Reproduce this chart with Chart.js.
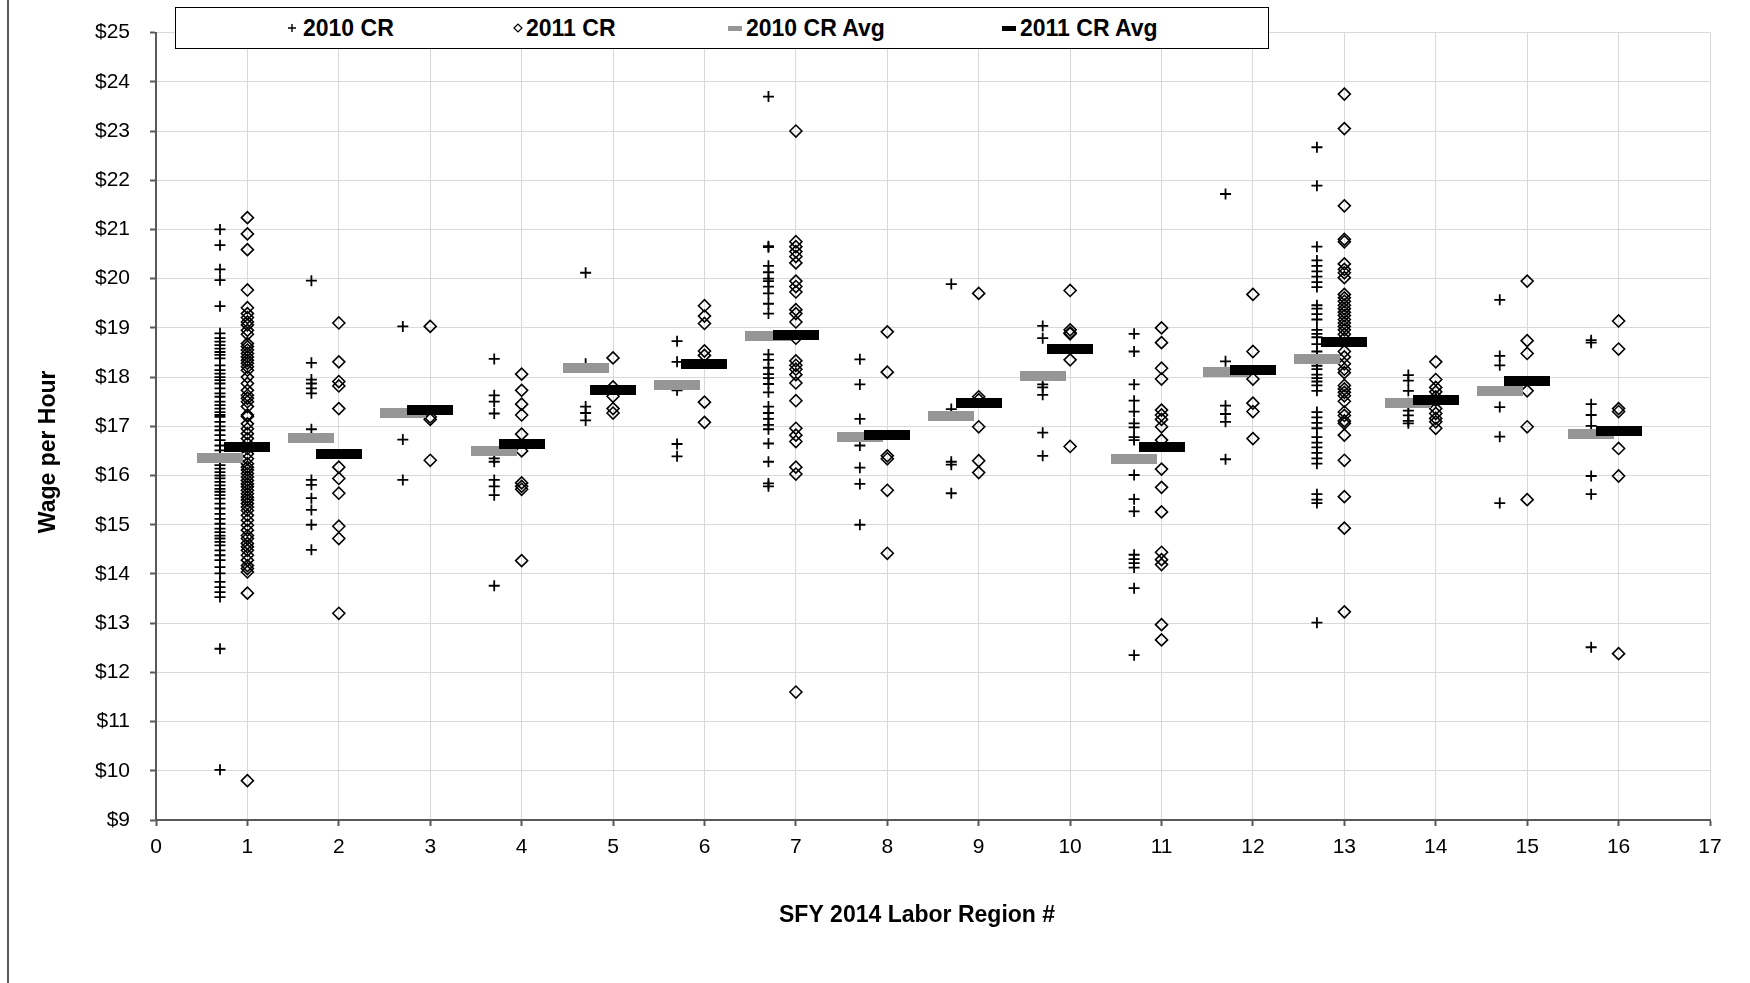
<!DOCTYPE html>
<html>
<head>
<meta charset="utf-8">
<script src="https://cdn.jsdelivr.net/npm/chart.js@4.4.1/dist/chart.umd.min.js"></script>
<style>
  body { margin: 0; background: #fff; }
  #wrap { position: relative; width: 1750px; height: 983px; font-family: "Liberation Sans", Arial, sans-serif; }
  #frame { position: absolute; left: 7px; top: 0; width: 2px; height: 983px; background: #595959; }
  #legend { position: absolute; left: 175px; top: 7px; width: 1092px; height: 40px; border: 1px solid #000; background: #fff; }
  .item { position: absolute; top: 0; height: 40px; display: flex; align-items: center; font-weight: bold; font-size: 23px; color: #000; white-space: nowrap; }
</style>
</head>
<body>
<div id="wrap">
  <canvas id="chart" width="1750" height="983"></canvas>
  <div id="frame"></div>
  <div id="legend">
    <div class="item" style="left:111px"><canvas id="lg0" width="10" height="10" style="margin-right:6px"></canvas>2010 CR</div>
    <div class="item" style="left:337px"><canvas id="lg1" width="10" height="10" style="margin-right:3px"></canvas>2011 CR</div>
    <div class="item" style="left:552px"><canvas id="lg2" width="14" height="5" style="margin-right:4px"></canvas>2010 CR Avg</div>
    <div class="item" style="left:826px"><canvas id="lg3" width="14" height="5" style="margin-right:4px"></canvas>2011 CR Avg</div>
  </div>
</div>
<script>
const regions = [1, 2, 3, 4, 5, 6, 7, 8, 9, 10, 11, 12, 13, 14, 15, 16];

// 2010 CR wages, one list per labor region
const cr2010 = [
    [21.0, 20.68, 20.19, 19.97, 19.44, 18.89, 18.79, 18.72, 18.65, 18.58, 18.51, 18.45, 18.38, 18.24, 18.14, 18.07, 18.0, 17.94, 17.87, 17.77, 17.67, 17.6, 17.5, 17.43, 17.36, 17.29, 17.23, 17.19, 17.09, 17.0, 16.92, 16.82, 16.72, 16.61, 16.51, 16.4, 16.3, 16.21, 16.14, 16.07, 16.0, 15.94, 15.87, 15.8, 15.73, 15.67, 15.6, 15.53, 15.43, 15.33, 15.22, 15.12, 15.02, 14.92, 14.85, 14.78, 14.72, 14.65, 14.58, 14.48, 14.38, 14.28, 14.14, 14.01, 13.84, 13.73, 13.63, 13.53, 12.48, 10.02],
    [19.96, 18.29, 17.95, 17.87, 17.77, 17.67, 16.94, 15.91, 15.81, 15.54, 15.3, 15.0, 14.49],
    [19.03, 16.73, 15.91],
    [18.37, 17.63, 17.5, 17.26, 16.35, 16.28, 15.91, 15.78, 15.6, 13.76],
    [20.12, 18.27, 17.4, 17.27, 17.12],
    [18.73, 18.31, 17.73, 16.64, 16.39],
    [23.7, 20.66, 20.64, 20.26, 20.13, 20.0, 19.95, 19.84, 19.7, 19.49, 19.29, 18.46, 18.35, 18.19, 18.06, 17.98, 17.86, 17.69, 17.4, 17.27, 17.15, 17.03, 16.94, 16.65, 16.28, 15.84, 15.78],
    [18.36, 17.85, 17.15, 16.61, 16.16, 15.83, 15.0],
    [19.89, 17.35, 16.28, 16.22, 15.64],
    [19.04, 18.79, 17.85, 17.79, 17.64, 16.87, 16.4],
    [18.88, 18.52, 17.85, 17.52, 17.3, 17.06, 16.98, 16.78, 16.72, 16.01, 15.52, 15.27, 14.39, 14.3, 14.22, 14.13, 13.71, 12.35],
    [21.72, 18.32, 17.42, 17.25, 17.09, 16.33],
    [22.67, 21.89, 20.65, 20.37, 20.26, 20.15, 20.04, 19.93, 19.83, 19.46, 19.39, 19.28, 19.17, 18.96, 18.88, 18.81, 18.67, 18.52, 18.38, 18.23, 18.16, 18.05, 17.98, 17.91, 17.83, 17.72, 17.29, 17.18, 17.07, 16.96, 16.78, 16.67, 16.57, 16.46, 16.35, 16.24, 15.62, 15.51, 15.44, 13.01],
    [18.04, 17.93, 17.72, 17.47, 17.32, 17.22, 17.11, 17.06],
    [19.57, 18.43, 18.24, 17.39, 16.79, 15.44],
    [18.75, 18.7, 17.45, 17.23, 17.01, 15.99, 15.62, 12.51]
];

// 2011 CR wages, one list per labor region
const cr2011 = [
    [21.24, 20.91, 20.59, 19.77, 19.41, 19.29, 19.21, 19.12, 19.06, 18.95, 18.87, 18.68, 18.62, 18.55, 18.48, 18.41, 18.34, 18.28, 18.21, 18.14, 18.0, 17.87, 17.73, 17.63, 17.57, 17.5, 17.4, 17.23, 17.2, 17.05, 16.95, 16.85, 16.75, 16.65, 16.55, 16.44, 16.34, 16.24, 16.17, 16.11, 16.04, 15.97, 15.9, 15.83, 15.77, 15.7, 15.63, 15.56, 15.5, 15.43, 15.36, 15.29, 15.19, 15.09, 14.99, 14.89, 14.78, 14.72, 14.62, 14.55, 14.48, 14.38, 14.28, 14.17, 14.11, 14.04, 13.61, 9.8],
    [19.1, 18.31, 17.91, 17.82, 17.36, 16.17, 15.94, 15.64, 14.97, 14.72, 13.2],
    [19.03, 17.19, 17.14, 16.31],
    [18.06, 17.73, 17.45, 17.23, 16.84, 16.5, 15.85, 15.78, 15.72, 14.27],
    [18.39, 17.8, 17.61, 17.36, 17.27],
    [19.45, 19.24, 19.09, 18.53, 18.44, 17.49, 17.08],
    [23.0, 20.75, 20.65, 20.55, 20.45, 20.32, 19.95, 19.84, 19.73, 19.37, 19.29, 19.12, 18.79, 18.33, 18.24, 18.16, 18.05, 17.88, 17.52, 16.96, 16.82, 16.69, 16.17, 16.03, 11.6],
    [18.92, 18.1, 16.4, 16.34, 15.7, 14.42],
    [19.7, 17.6, 17.54, 16.99, 16.3, 16.06],
    [19.76, 18.96, 18.9, 18.88, 18.35, 16.59],
    [19.0, 18.7, 18.18, 17.96, 17.33, 17.23, 17.14, 16.99, 16.72, 16.13, 15.76, 15.26, 14.44, 14.29, 14.19, 12.97, 12.66],
    [19.68, 18.52, 17.96, 17.47, 17.3, 16.75],
    [23.75, 23.05, 21.48, 20.8, 20.75, 20.3, 20.19, 20.12, 20.02, 19.68, 19.61, 19.54, 19.46, 19.39, 19.32, 19.25, 19.17, 19.1, 19.03, 18.96, 18.87, 18.78, 18.52, 18.41, 18.27, 18.16, 18.09, 17.83, 17.76, 17.69, 17.62, 17.51, 17.29, 17.22, 17.11, 17.06, 16.82, 16.31, 15.57, 14.93, 13.23],
    [18.31, 17.95, 17.79, 17.7, 17.6, 17.53, 17.36, 17.26, 17.16, 17.09, 16.96],
    [19.95, 18.74, 18.48, 17.72, 16.99, 15.51],
    [19.14, 18.57, 17.36, 17.3, 16.55, 15.99, 12.38]
];

const avg2010 = [16.35, 16.77, 17.27, 16.50, 18.19, 17.83, 18.83, 16.79, 17.20, 18.02, 16.33, 18.10, 18.36, 17.47, 17.71, 16.84];
const avg2011 = [16.57, 16.44, 17.34, 16.64, 17.73, 18.27, 18.86, 16.82, 17.47, 18.58, 16.58, 18.14, 18.71, 17.54, 17.93, 16.90];

// 2010 series sits a bit left of the region number
const shift2010 = 0.3;

const FONT = '"Liberation Sans", Arial, sans-serif';
Chart.defaults.font.family = FONT;

function toPoints(lists, shift) {
    var pts = [];
    lists.forEach(function(vals, i) {
        vals.forEach(function(v) {
            pts.push({x: regions[i] - shift, y: v});
        });
    });
    return pts;
}

function avgPoints(vals, shift) {
    return regions.map(function(r, i) { return {x: r - shift, y: vals[i]}; });
}

function barImage(color, w, h) {
    var c = document.createElement('canvas');
    c.width = w;
    c.height = h;
    var ctx = c.getContext('2d');
    ctx.fillStyle = color;
    ctx.fillRect(0, 0, w, h);
    return c;
}

function drawLegendMarkers() {
    var c = document.getElementById('lg0').getContext('2d');
    c.strokeStyle = '#000'; c.lineWidth = 1.4;
    c.beginPath(); c.moveTo(1, 5); c.lineTo(9, 5); c.moveTo(5, 1); c.lineTo(5, 9); c.stroke();
    c = document.getElementById('lg1').getContext('2d');
    c.strokeStyle = '#000'; c.lineWidth = 1.2;
    c.beginPath(); c.moveTo(1, 5); c.lineTo(5, 1); c.lineTo(9, 5); c.lineTo(5, 9); c.closePath(); c.stroke();
    c = document.getElementById('lg2').getContext('2d');
    c.fillStyle = '#969696'; c.fillRect(0, 0, 14, 5);
    c = document.getElementById('lg3').getContext('2d');
    c.fillStyle = '#000'; c.fillRect(0, 0, 14, 5);
}

new Chart('chart', {
    type: 'scatter',
    data: {
        datasets: [{
            label: '2010 CR',
            data: toPoints(cr2010, shift2010),
            pointStyle: 'cross',
            pointRadius: 5.5,
            borderColor: '#000',
            borderWidth: 1.8,
            order: 3
        },
        {
            label: '2011 CR',
            data: toPoints(cr2011, 0),
            pointStyle: 'rectRot',
            pointRadius: 6,
            borderColor: '#000',
            backgroundColor: 'rgba(0,0,0,0)',
            borderWidth: 1.6,
            order: 2
        },
        {
            label: '2010 CR Avg',
            data: avgPoints(avg2010, shift2010),
            pointStyle: barImage('#969696', 46, 10),
            pointRadius: 5,
            order: 1
        },
        {
            label: '2011 CR Avg',
            data: avgPoints(avg2011, 0),
            pointStyle: barImage('#000', 46, 10),
            pointRadius: 5,
            order: 0
        }]
    },
    options: {
        responsive: false,
        animation: false,
        events: [],
        layout: {padding: {left: 0, right: 40, top: 32, bottom: 0}},
        plugins: {
            legend: {display: false},
            tooltip: {enabled: false}
        },
        scales: {
            x: {
                type: 'linear',
                min: 0, max: 17,
                ticks: {stepSize: 1, color: '#000', font: {size: 21}, padding: 9, maxRotation: 0, autoSkip: false},
                grid: {color: '#d9d9d9', tickColor: '#595959', tickLength: 6, tickWidth: 2},
                border: {color: '#595959', width: 2},
                title: {
                    display: true,
                    // trailing spaces nudge the centred title a little left, as in the original
                    text: 'SFY 2014 Labor Region #     ',
                    color: '#000',
                    font: {size: 23, weight: 'bold'},
                    padding: {top: 0, bottom: 54}
                },
                afterFit: function(scale) { scale.height = 163; }
            },
            y: {
                min: 9, max: 25,
                ticks: {
                    stepSize: 1, color: '#000', font: {size: 21}, padding: 20,
                    callback: function(v) { return '$' + v; }
                },
                grid: {color: '#d9d9d9', tickColor: '#595959', tickLength: 6, tickWidth: 2},
                border: {color: '#595959', width: 2},
                title: {
                    display: true,
                    // trailing spaces push the rotated title down a bit
                    text: 'Wage per Hour        ',
                    color: '#000',
                    font: {size: 23, weight: 'bold'},
                    padding: {top: 35, bottom: 0}
                },
                afterFit: function(scale) { scale.width = 156; }
            }
        }
    }
});

drawLegendMarkers();
</script>
</body>
</html>
